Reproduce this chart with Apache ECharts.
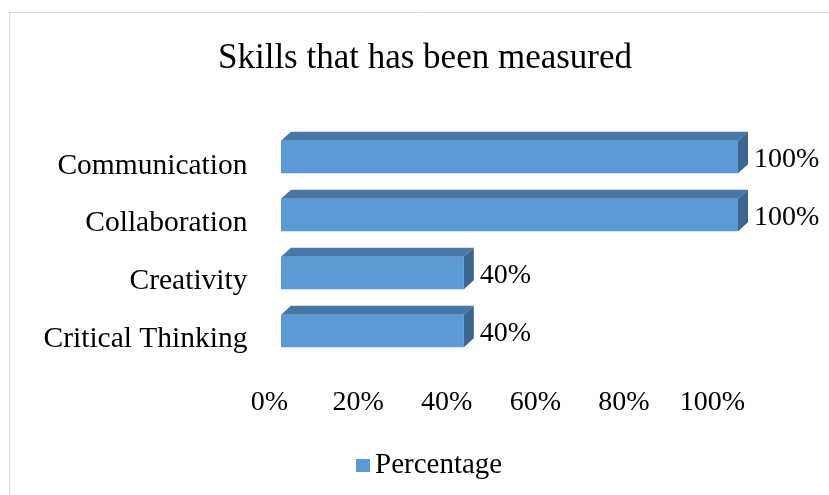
<!DOCTYPE html>
<html>
<head>
<meta charset="utf-8">
<script src="https://cdn.jsdelivr.net/npm/echarts@6/dist/echarts.min.js"></script>
<style>html,body{margin:0;padding:0;background:#fff}#c{width:829px;height:495px}</style>
</head>
<body>
<div id="c"></div>
<script>
const titleText = 'Skills that has been measured';
const categories = ['Communication', 'Collaboration', 'Creativity', 'Critical Thinking'];
const values = [100, 100, 40, 40];
const seriesName = 'Percentage';
const axisMin = 0, axisMax = 100, axisStep = 20;

const FONT = "'Liberation Serif', 'Times New Roman', serif";
const chart = echarts.init(document.getElementById('c'), null, {renderer: 'canvas'});

function renderItem(params, api) {
  const v = api.value(0);
  const cat = api.value(1);
  const p0 = api.coord([0, cat]);
  const p1 = api.coord([v, cat]);
  const h = api.size([0, 1])[1] * 0.56;
  const yT = p0[1] - h / 2, yB = p0[1] + h / 2;
  const x0 = p0[0], x1 = p1[0];
  const dx = 10, dy = 9;
  return {
    type: 'group',
    children: [
      {type: 'rect', shape: {x: x0, y: yT, width: x1 - x0, height: h}, style: {fill: '#5b9bd5'}},
      {type: 'polygon', shape: {points: [[x0, yT], [x0 + dx, yT - dy], [x1 + dx, yT - dy], [x1, yT]]}, style: {fill: '#4677a6'}},
      {type: 'polygon', shape: {points: [[x1, yT], [x1 + dx, yT - dy], [x1 + dx, yB - dy], [x1, yB]]}, style: {fill: '#3c668f'}},
      {type: 'text', x: x1 + dx + 6, y: p0[1] + 3, style: {text: v + '%', fill: '#000', font: '28px ' + FONT, textAlign: 'left', textVerticalAlign: 'middle'}}
    ]
  };
}

chart.setOption({
  animation: false,
  backgroundColor: '#fff',
  graphic: [{type: 'rect', shape: {x: 9.5, y: 12.5, width: 900, height: 600}, style: {fill: 'none', stroke: '#d9d9d9', lineWidth: 1}, silent: true}],
  title: {text: titleText, left: 420, top: 36, textAlign: 'center', textStyle: {fontFamily: FONT, fontSize: 35, fontWeight: 'normal', color: '#000'}},
  legend: {data: [seriesName], left: 356, top: 451, padding: 0, icon: 'rect', itemWidth: 14, itemHeight: 13, itemGap: 10,
    textStyle: {fontFamily: FONT, fontSize: 29, color: '#000'}},
  grid: [
    {left: 269.5, width: 443, top: 137, height: 231},
    {left: 281, width: 457, top: 128, height: 232}
  ],
  xAxis: [
    {type: 'value', gridIndex: 0, min: axisMin, max: axisMax, interval: axisStep,
      axisLine: {show: false}, axisTick: {show: false}, splitLine: {show: false},
      axisLabel: {formatter: '{value}%', fontFamily: FONT, fontSize: 28, color: '#000', margin: 21}},
    {type: 'value', gridIndex: 1, min: axisMin, max: axisMax, show: false, splitLine: {show: false}}
  ],
  yAxis: [
    {type: 'category', gridIndex: 0, data: categories, inverse: true,
      axisLine: {show: false}, axisTick: {show: false},
      axisLabel: {fontFamily: FONT, fontSize: 29.5, color: '#000', margin: 22}},
    {type: 'category', gridIndex: 1, data: categories, inverse: true, show: false}
  ],
  series: [{
    name: seriesName, type: 'custom', xAxisIndex: 1, yAxisIndex: 1,
    itemStyle: {color: '#5b9bd5'},
    renderItem: renderItem,
    encode: {x: 0, y: 1},
    data: values.map((v, i) => [v, i])
  }]
});
</script>
</body>
</html>
